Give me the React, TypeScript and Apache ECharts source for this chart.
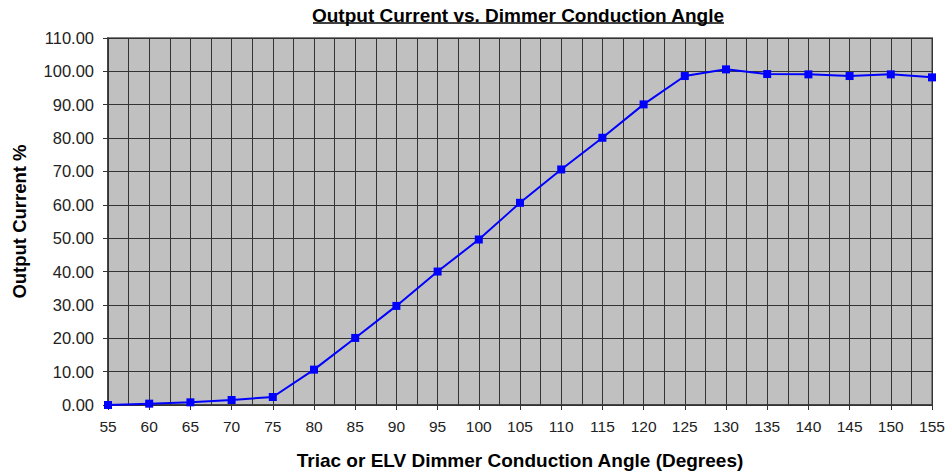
import React, { useEffect, useRef } from "react";
import * as echarts from "echarts";

const angles = [55, 60, 65, 70, 75, 80, 85, 90, 95, 100, 105, 110, 115, 120, 125, 130, 135, 140, 145, 150, 155];
const currents = [0.0, 0.4, 0.8, 1.5, 2.4, 10.6, 20.1, 29.7, 40.0, 49.6, 60.6, 70.6, 80.1, 90.1, 98.6, 100.6, 99.2, 99.1, 98.6, 99.1, 98.2];

const titleText = "Output Current vs. Dimmer Conduction Angle";
const xName = "Triac or ELV Dimmer Conduction Angle (Degrees)";
const yName = "Output Current %";

const FONT = "'Liberation Sans', Arial, sans-serif";

export default function App() {
  const ref = useRef<HTMLDivElement>(null);
  useEffect(() => {
    if (!ref.current) return;
    const chart = echarts.init(ref.current, undefined, { renderer: "svg" });
    chart.setOption({
      animation: false,
      backgroundColor: "#ffffff",
      title: {
        text: titleText,
        left: 513,
        textAlign: "center",
        top: 1,
        textStyle: { fontFamily: FONT, fontSize: 19, fontWeight: "bold", color: "#000" },
      },
      graphic: [
        {
          type: "line",
          shape: { x1: 313, y1: 23, x2: 724, y2: 23 },
          style: { stroke: "#000", lineWidth: 1.5 },
        },
      ],
      grid: {
        left: 108,
        right: 16,
        top: 38,
        bottom: 71,
        show: true,
        backgroundColor: "#C0C0C0",
        borderColor: "#808080",
        borderWidth: 2,
      },
      xAxis: {
        type: "value",
        min: 55,
        max: 155,
        interval: 5,
        name: xName,
        nameLocation: "middle",
        nameGap: 46,
        nameTextStyle: { fontFamily: FONT, fontSize: 19, fontWeight: "bold", color: "#000" },
        axisLine: { show: true, onZero: false, lineStyle: { color: "#333", width: 1.5 } },
        axisTick: { show: true, length: 5, lineStyle: { color: "#333" } },
        axisLabel: { fontFamily: FONT, fontSize: 15.5, color: "#222", margin: 13 },
        splitLine: { show: true, lineStyle: { color: "#333", width: 1 } },
        minorTick: { show: false, splitNumber: 2 },
        minorSplitLine: { show: true, lineStyle: { color: "#333", width: 1 } },
      },
      yAxis: {
        type: "value",
        min: 0,
        max: 110,
        interval: 10,
        name: yName,
        nameLocation: "middle",
        nameGap: 79,
        nameTextStyle: { fontFamily: FONT, fontSize: 18.5, fontWeight: "bold", color: "#000" },
        axisLine: { show: true, lineStyle: { color: "#333", width: 1.5 } },
        axisTick: { show: true, length: 5, lineStyle: { color: "#333" } },
        axisLabel: {
          fontFamily: FONT,
          fontSize: 16.5,
          color: "#222",
          margin: 14,
          formatter: (v: number) => v.toFixed(2),
        },
        splitLine: { show: true, lineStyle: { color: "#333", width: 1 } },
      },
      series: [
        {
          type: "line",
          data: angles.map((a, i) => [a, currents[i]]),
          symbol: "rect",
          symbolSize: 8,
          lineStyle: { color: "#0000FF", width: 2 },
          itemStyle: { color: "#0000FF" },
          clip: false,
        },
      ],
    });
    return () => chart.dispose();
  }, []);
  return <div ref={ref} style={{ width: 948, height: 476, position: "absolute", left: 0, top: 0 }} />;
}
